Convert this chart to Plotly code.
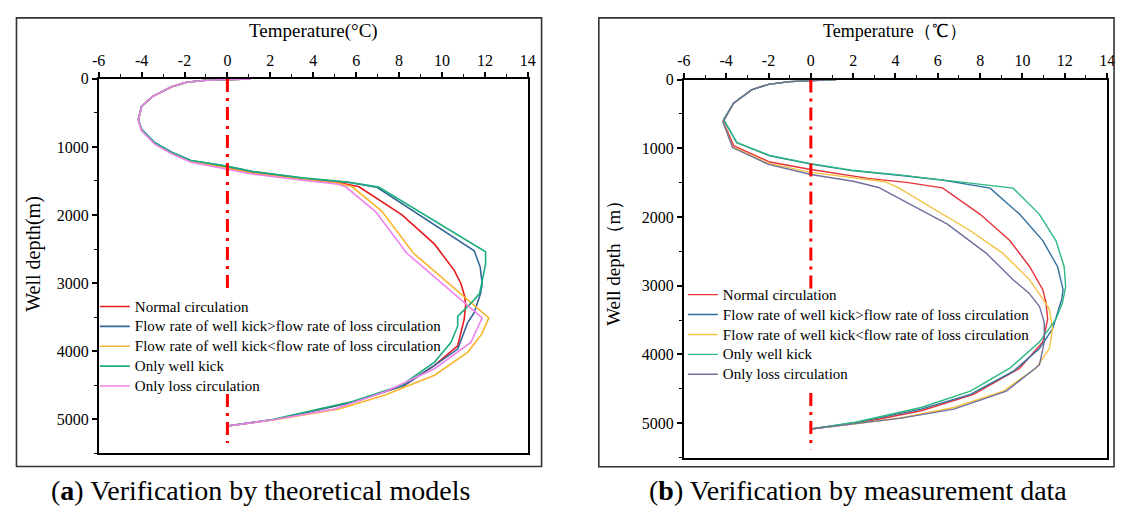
import plotly.graph_objects as go

W, H = 1125, 513

# ---------------- data: panel (a) theoretical models ----------------
series_names = [
    "Normal circulation",
    "Flow rate of well kick>flow rate of loss circulation",
    "Flow rate of well kick<flow rate of loss circulation",
    "Only well kick",
    "Only loss circulation",
]

a_normal_depth = [0, 10, 20, 50, 116, 260, 405, 600, 750, 945, 1090, 1210, 1300, 1385, 1475, 1530, 1585, 1994, 2428, 2813, 3006, 3200, 3330, 3536, 3921, 4210, 4500, 4740, 4910, 5005, 5100]
a_normal_temp = [1.1, 0.2, -1.0, -1.9, -2.6, -3.5, -4.0, -4.15, -4.0, -3.4, -2.6, -1.7, -0.1, 1.2, 3.5, 5.3, 6.13, 8.12, 9.65, 10.57, 10.88, 11.06, 11.1, 11.03, 10.73, 9.65, 8.25, 5.95, 3.6, 2.2, 0.0]

a_kick_gt_depth = [0, 10, 20, 50, 116, 260, 405, 597, 742, 935, 1079, 1199, 1282, 1365, 1460, 1518, 1590, 2525, 2765, 3006, 3150, 3440, 3585, 3970, 4210, 4500, 4740, 4910, 5005, 5100]
a_kick_gt_temp = [1.1, 0.2, -1.0, -1.9, -2.6, -3.5, -4.0, -4.15, -4.0, -3.4, -2.6, -1.7, -0.1, 1.2, 3.5, 5.6, 6.95, 11.5, 11.78, 11.87, 11.8, 11.49, 11.19, 10.73, 9.65, 8.25, 5.95, 3.6, 2.15, 0.0]

a_kick_lt_depth = [0, 10, 20, 50, 116, 260, 405, 605, 755, 950, 1095, 1215, 1305, 1390, 1480, 1535, 1585, 1946, 2331, 2558, 3512, 3750, 4017, 4354, 4643, 4850, 5005, 5100]
a_kick_lt_temp = [1.1, 0.2, -1.0, -1.9, -2.6, -3.5, -4.0, -4.15, -4.0, -3.4, -2.6, -1.7, -0.1, 1.2, 3.5, 5.2, 5.82, 7.2, 8.12, 8.66, 12.18, 11.85, 11.19, 9.65, 7.35, 5.2, 2.3, 0.0]

a_kick_depth = [0, 10, 20, 50, 116, 260, 405, 597, 742, 935, 1079, 1199, 1278, 1360, 1455, 1515, 1590, 2540, 2720, 3000, 3150, 3250, 3390, 3490, 3630, 3870, 4160, 4500, 4740, 4910, 5005, 5100]
a_kick_temp = [1.1, 0.2, -1.0, -1.9, -2.6, -3.5, -4.0, -4.15, -4.0, -3.4, -2.6, -1.7, -0.1, 1.2, 3.5, 5.6, 7.05, 12.03, 12.03, 11.85, 11.75, 11.49, 11.03, 10.73, 10.73, 10.42, 9.65, 8.12, 5.82, 3.52, 2.1, 0.0]

a_loss_depth = [0, 10, 20, 50, 116, 260, 405, 610, 760, 955, 1100, 1225, 1320, 1400, 1490, 1545, 1585, 1946, 2331, 2558, 3512, 3873, 4258, 4595, 4850, 5005, 5100]
a_loss_temp = [1.1, 0.2, -1.0, -1.9, -2.6, -3.5, -4.0, -4.15, -4.0, -3.4, -2.6, -1.7, -0.1, 1.2, 3.5, 5.1, 5.51, 6.89, 7.81, 8.35, 11.87, 11.34, 9.65, 7.35, 5.0, 2.2, 0.0]

# ---------------- data: panel (b) measurement data ----------------
b_normal_depth = [0, 10, 30, 70, 151, 343, 600, 961, 1200, 1309, 1437, 1500, 1575, 1961, 2343, 2723, 3057, 3247, 3486, 3819, 4200, 4580, 4819, 4990, 5085]
b_normal_temp = [1.2, 0.3, -1.0, -2.0, -2.8, -3.65, -4.15, -3.65, -1.94, 0.0, 2.72, 4.6, 6.22, 8.0, 9.4, 10.34, 10.96, 11.11, 11.19, 10.96, 9.87, 7.69, 5.21, 2.4, 0.0]

b_kick_gt_depth = [0, 10, 30, 70, 151, 343, 585, 920, 1110, 1230, 1325, 1395, 1466, 1580, 1961, 2343, 2723, 3057, 3200, 3629, 3914, 4247, 4580, 4795, 4980, 5085]
b_kick_gt_temp = [1.2, 0.3, -1.0, -2.0, -2.8, -3.65, -4.12, -3.5, -1.94, 0.0, 1.94, 4.27, 6.29, 8.47, 9.87, 10.96, 11.66, 11.92, 11.85, 11.42, 10.8, 9.56, 7.54, 5.21, 2.3, 0.0]

b_kick_lt_depth = [0, 10, 30, 70, 151, 343, 610, 980, 1220, 1351, 1486, 1575, 1914, 2200, 2533, 2914, 3223, 3343, 3629, 3914, 4200, 4533, 4771, 4914, 5000, 5085]
b_kick_lt_temp = [1.2, 0.3, -1.0, -2.0, -2.8, -3.65, -4.15, -3.7, -2.0, 0.0, 3.5, 4.15, 5.98, 7.54, 9.09, 10.34, 11.03, 11.27, 11.42, 11.27, 10.64, 9.09, 6.76, 4.43, 2.3, 0.0]

b_kick_depth = [0, 10, 30, 70, 151, 343, 580, 914, 1104, 1223, 1319, 1390, 1461, 1580, 1961, 2343, 2723, 3009, 3247, 3486, 3819, 4200, 4533, 4771, 4986, 5085]
b_kick_temp = [1.2, 0.3, -1.0, -2.0, -2.8, -3.65, -4.12, -3.5, -1.94, 0.0, 1.94, 4.27, 6.29, 9.56, 10.8, 11.58, 11.97, 12.04, 11.89, 11.58, 10.8, 9.4, 7.54, 5.21, 2.1, 0.0]

b_loss_depth = [0, 10, 30, 70, 151, 343, 620, 990, 1235, 1381, 1480, 1570, 1771, 2104, 2533, 2914, 3104, 3300, 3533, 3819, 4152, 4533, 4795, 4930, 5010, 5085]
b_loss_temp = [1.2, 0.3, -1.0, -2.0, -2.8, -3.65, -4.15, -3.7, -2.0, 0.0, 2.0, 3.2, 4.43, 6.45, 8.31, 9.56, 10.3, 10.8, 11.03, 11.03, 10.8, 9.24, 6.76, 4.2, 2.0, 0.0]

# red dash-dot reference line at 0 degC (drawn in two pieces, as in the figure)
zero_line_depth_a = [0, 3100, None, 4630, 5350]
zero_line_depth_b = [0, 3060, None, 4560, 5380]

x_ticks = [-6, -4, -2, 0, 2, 4, 6, 8, 10, 12, 14]
y_ticks = [0, 1000, 2000, 3000, 4000, 5000]

colors_a = ["#e8191e", "#36689a", "#f7b52c", "#1fae7f", "#ee82ee"]
colors_b = ["#e6333a", "#2f6f9f", "#f5c242", "#2db97f", "#6f6f9f"]

a_series = [(a_normal_temp, a_normal_depth), (a_kick_gt_temp, a_kick_gt_depth),
            (a_kick_lt_temp, a_kick_lt_depth), (a_kick_temp, a_kick_depth),
            (a_loss_temp, a_loss_depth)]
b_series = [(b_normal_temp, b_normal_depth), (b_kick_gt_temp, b_kick_gt_depth),
            (b_kick_lt_temp, b_kick_lt_depth), (b_kick_temp, b_kick_depth),
            (b_loss_temp, b_loss_depth)]

SERIF = "Liberation Serif, Times New Roman, Times, serif"
LEGEND_TEXT_SIZE = 15


def legend_name(s):
    return '<span style="font-size:%dpx">%s</span>' % (LEGEND_TEXT_SIZE, s)


fig = go.Figure()
for (t, d), name, c in zip(a_series, series_names, colors_a):
    fig.add_trace(go.Scatter(x=t, y=d, mode="lines", name=legend_name(name),
                             line=dict(color=c, width=1.6),
                             xaxis="x", yaxis="y", legend="legend"))
for (t, d), name, c in zip(b_series, series_names, colors_b):
    fig.add_trace(go.Scatter(x=t, y=d, mode="lines", name=legend_name(name),
                             line=dict(color=c, width=1.4),
                             xaxis="x2", yaxis="y2", legend="legend2"))

zero_a = [0 if v is not None else None for v in zero_line_depth_a]
zero_b = [0 if v is not None else None for v in zero_line_depth_b]
fig.add_trace(go.Scatter(x=zero_a, y=zero_line_depth_a, mode="lines", showlegend=False,
                         line=dict(color="#ff0000", width=3, dash="13px,6px,3px,6px"),
                         xaxis="x", yaxis="y", hoverinfo="skip", connectgaps=False))
fig.add_trace(go.Scatter(x=zero_b, y=zero_line_depth_b, mode="lines", showlegend=False,
                         line=dict(color="#ff0000", width=3, dash="13px,6px,3px,6px"),
                         xaxis="x2", yaxis="y2", hoverinfo="skip", connectgaps=False))


def px_x(p):
    return p / W


def px_y(p):
    return 1 - p / H


axis_common = dict(showline=True, linecolor="black", linewidth=1.6, mirror=True,
                   showgrid=False, zeroline=False, ticks="outside", ticklen=5,
                   tickwidth=1.6, tickcolor="black",
                   tickfont=dict(family=SERIF, size=16, color="black"))

xa = dict(axis_common, range=[-6, 14], tickvals=x_ticks, ticktext=[str(v) for v in x_ticks],
          side="top",
          minor=dict(dtick=1, ticks="outside", ticklen=3, tickwidth=1.4, tickcolor="black"))
ya = dict(axis_common, tickvals=y_ticks, ticktext=[str(v) for v in y_ticks],
          minor=dict(dtick=500, ticks="outside", ticklen=3, tickwidth=1.4, tickcolor="black"))

legend_common = dict(xanchor="left", yanchor="top", bgcolor="rgba(0,0,0,0)",
                     borderwidth=0, tracegroupgap=0,
                     font=dict(family=SERIF, size=13, color="black"))

fig.update_layout(
    width=W, height=H, margin=dict(l=0, r=0, t=0, b=0),
    paper_bgcolor="white", plot_bgcolor="white",
    font=dict(family=SERIF, color="black"),
    xaxis=dict(xa, domain=[px_x(92.9), px_x(527.9)], anchor="y"),
    yaxis=dict(ya, domain=[px_y(452.3), px_y(72)], range=[5500, 0], anchor="x"),
    xaxis2=dict(xa, domain=[px_x(686), px_x(1115)], anchor="y2"),
    yaxis2=dict(ya, domain=[px_y(456.7), px_y(72.7)], range=[5500, 0], anchor="x2"),
    legend=dict(legend_common, x=px_x(89), y=px_y(288)),
    legend2=dict(legend_common, x=px_x(685), y=px_y(276)),
    showlegend=True,
)

# outer frames
fig.add_shape(type="rect", xref="paper", yref="paper",
              x0=px_x(9.6), x1=px_x(541.8), y0=px_y(465.7), y1=px_y(10),
              line=dict(color="#333333", width=1.6))
fig.add_shape(type="rect", xref="paper", yref="paper",
              x0=px_x(599.8), x1=px_x(1122), y0=px_y(466), y1=px_y(10),
              line=dict(color="#333333", width=1.6))


def label(text, x, y, size, angle=0):
    return dict(text=text, x=px_x(x), y=px_y(y), xref="paper", yref="paper",
                xanchor="center", yanchor="middle", showarrow=False, textangle=angle,
                font=dict(family=SERIF, size=size, color="black"))


ann = [
    label("Temperature(°C)", 311, 23, 19),
    label("Temperature（℃）", 900, 23, 18),
    label("Well depth(m)", 26, 250, 20, -90),
    label("Well depth（m）", 614, 254, 19, -90),
    label("(<b>a</b>) Verification by theoretical models", 257, 490, 28),
    label("(<b>b</b>) Verification by measurement data", 863, 490, 28),
]
fig.update_layout(annotations=ann)

fig.write_html("out.html")
